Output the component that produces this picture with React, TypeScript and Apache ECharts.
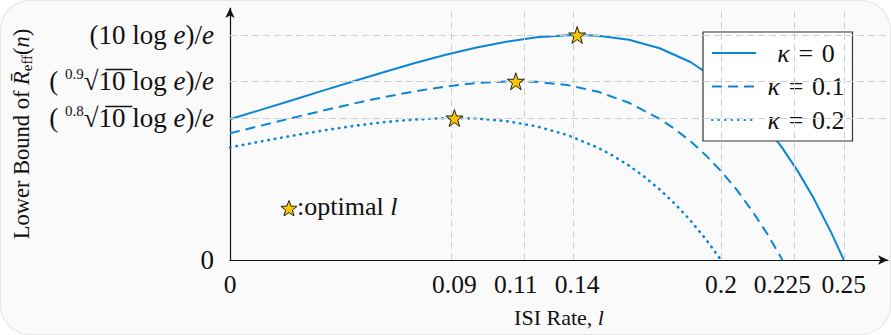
import React, { useEffect, useRef } from "react";
import * as echarts from "echarts";

// ---- data ----
const KAPPAS = [0, 0.1, 0.2];
const SERIES_NAMES = ["κ = 0", "κ = 0.1", "κ = 0.2"];

const L_K0 = [0, 0.0125, 0.025, 0.0375, 0.05, 0.0625, 0.075, 0.0875, 0.1, 0.1125, 0.125, 0.1375, 0.1414, 0.15, 0.1625, 0.175, 0.1875, 0.2, 0.20625, 0.2125, 0.21875, 0.225, 0.23125, 0.2375, 0.245, 0.25];
const R_K0 = [6.259, 6.671, 7.092, 7.515, 7.936, 8.348, 8.742, 9.108, 9.433, 9.702, 9.896, 9.993, 10.0, 9.967, 9.785, 9.411, 8.799, 7.898, 7.32, 6.647, 5.867, 4.972, 3.95, 2.789, 1.195, 0];

const L_K1 = [0, 0.0125, 0.025, 0.0375, 0.05, 0.0625, 0.075, 0.0875, 0.1, 0.1125, 0.1164, 0.125, 0.1375, 0.15, 0.1625, 0.175, 0.18125, 0.1875, 0.19375, 0.2, 0.20625, 0.2125, 0.21875, 0.225];
const R_K1 = [5.633, 5.969, 6.304, 6.631, 6.944, 7.235, 7.493, 7.707, 7.861, 7.938, 7.943, 7.917, 7.773, 7.475, 6.989, 6.274, 5.815, 5.28, 4.66, 3.949, 3.137, 2.215, 1.173, 0];

const L_K2 = [0, 0.0125, 0.025, 0.0375, 0.05, 0.0625, 0.075, 0.0875, 0.0914, 0.1, 0.1125, 0.125, 0.1375, 0.15, 0.15625, 0.1625, 0.16875, 0.175, 0.18125, 0.1875, 0.19375, 0.2];
const R_K2 = [5.007, 5.267, 5.516, 5.747, 5.952, 6.122, 6.245, 6.305, 6.31, 6.289, 6.174, 5.938, 5.552, 4.984, 4.619, 4.194, 3.702, 3.137, 2.492, 1.76, 0.932, 0];

const OPT_L = [0.1414, 0.1164, 0.0914];
const OPT_R = [10.0, 7.943, 6.31];

const X_TICK_VALUES = [0, 0.0914, 0.1164, 0.1414, 0.2, 0.225, 0.25];
const X_TICK_LABELS = ["0", "0.09", "0.11", "0.14", "0.2", "0.225", "0.25"];
const Y_TICK_VALUES = [0, 6.31, 7.943, 10];
const Y_TICK_LABELS = [
  "0",
  "( {sup|0.8}√1\u03050\u0305 log {it|e})/{it|e}",
  "( {sup|0.9}√1\u03050\u0305 log {it|e})/{it|e}",
  "(10 log {it|e})/{it|e}",
];

const FONT = "'Liberation Serif', 'DejaVu Serif', serif";
const BLUE = "#0a86d3";
const GOLD = "#f7c600";
const STAR = "path://M50,2 L61.8,36.2 L97.6,36.2 L68.7,57.4 L79.5,91.6 L50,70.6 L20.5,91.6 L31.3,57.4 L2.4,36.2 L38.2,36.2 Z";

function pick(values: number[], labels: string[], v: number) {
  const i = values.findIndex((t) => Math.abs(t - v) < 1e-6);
  return i >= 0 ? labels[i] : "";
}

function starPoints(cx: number, cy: number, ro: number, ri: number) {
  const pts: number[][] = [];
  for (let k = 0; k < 10; k++) {
    const r = k % 2 === 0 ? ro : ri;
    const a = -Math.PI / 2 + (k * Math.PI) / 5;
    pts.push([cx + r * Math.cos(a), cy + r * Math.sin(a)]);
  }
  return pts;
}

export default function App() {
  const ref = useRef<HTMLDivElement>(null);

  useEffect(() => {
    if (!ref.current) return;
    const chart = echarts.init(ref.current, undefined, { renderer: "svg" });
    const zip = (xs: number[], ys: number[]) => xs.map((x, i) => [x, ys[i]]);
    const lineTypes: any[] = ["solid", [10, 6], [0.5, 6]];
    const lineData = [zip(L_K0, R_K0), zip(L_K1, R_K1), zip(L_K2, R_K2)];

    const gridLineStyle = { color: "#cfcfcf", width: 1, type: [7, 4] as any };

    chart.setOption({
      animation: false,
      backgroundColor: "transparent",
      grid: { left: 230, right: 3, top: 8, bottom: 75 },
      xAxis: {
        type: "value",
        min: 0,
        max: 0.268,
        axisLine: {
          show: true,
          symbol: ["none", "arrow"],
          symbolSize: [7, 10],
          lineStyle: { color: "#111", width: 1.2 },
        },
        axisTick: { show: false },
        splitLine: { show: false },
        axisLabel: {
          customValues: X_TICK_VALUES,
          formatter: (v: number) => pick(X_TICK_VALUES, X_TICK_LABELS, v),
          fontFamily: FONT,
          fontSize: 25.5,
          color: "#111",
          margin: 11,
        },
        name: "ISI Rate, {it|l}",
        nameLocation: "middle",
        nameGap: 46,
        nameTextStyle: {
          fontFamily: FONT,
          fontSize: 22,
          color: "#111",
          rich: { it: { fontFamily: FONT, fontSize: 22, fontStyle: "italic", color: "#111" } },
        },
      },
      yAxis: {
        type: "value",
        min: 0,
        max: 11.2,
        axisLine: {
          show: true,
          symbol: ["none", "arrow"],
          symbolSize: [7, 10],
          lineStyle: { color: "#111", width: 1.2 },
        },
        axisTick: { show: false },
        splitLine: { show: false },
        axisLabel: {
          customValues: Y_TICK_VALUES,
          formatter: (v: number) => pick(Y_TICK_VALUES, Y_TICK_LABELS, v),
          fontFamily: FONT,
          fontSize: 27,
          lineHeight: 30,
          color: "#111",
          margin: 16,
          rich: {
            it: { fontFamily: FONT, fontSize: 27, fontStyle: "italic", color: "#111", lineHeight: 30 },
            sup: { fontFamily: FONT, fontSize: 15, color: "#111", verticalAlign: "top", lineHeight: 16 },
          },
        },
        name: "Lower Bound of {it|R\u0304}{sub|eff}({it|n})",
        nameLocation: "middle",
        nameRotate: 90,
        nameGap: 196,
        nameTextStyle: {
          fontFamily: FONT,
          fontSize: 22.5,
          color: "#111",
          lineHeight: 26,
          rich: {
            it: { fontFamily: FONT, fontSize: 22.5, fontStyle: "italic", color: "#111", lineHeight: 26 },
            sub: { fontFamily: FONT, fontSize: 15, color: "#111", verticalAlign: "bottom", lineHeight: 16 },
          },
        },
      },
      legend: {
        data: SERIES_NAMES,
        orient: "vertical",
        left: 703,
        top: 32,
        padding: 8,
        itemGap: 7.5,
        itemWidth: 44,
        itemHeight: 24,
        backgroundColor: "#ffffff",
        borderColor: "#333",
        borderWidth: 1.2,
        borderRadius: 0,
        itemStyle: { opacity: 0 },
        formatter: (name: string) => {
          const i = SERIES_NAMES.indexOf(name);
          return `{k|κ}{c|\u2004=\u2004${KAPPAS[i]}}`;
        },
        textStyle: {
          width: 90,
          fontFamily: FONT,
          fontSize: 26,
          color: "#111",
          rich: {
            k: { align: "center", fontFamily: FONT, fontSize: 26, fontStyle: "italic", color: "#111", lineHeight: 24 },
            c: { align: "center", fontFamily: FONT, fontSize: 26, color: "#111", lineHeight: 24 },
          },
        },
      },
      graphic: [
        {
          type: "polygon",
          shape: { points: starPoints(289, 209, 8.5, 3.6) },
          style: { fill: GOLD, stroke: "#222", lineWidth: 1 },
          z: 10,
        },
        {
          type: "text",
          left: 297,
          top: 193,
          style: {
            text: ":optimal {it|l}",
            fontFamily: FONT,
            fontSize: 26,
            fill: "#111",
            rich: { it: { fontFamily: FONT, fontSize: 26, fontStyle: "italic", fill: "#111" } },
          },
          z: 10,
        },
      ],
      series: [
        {
          type: "line",
          name: "grid",
          data: [],
          silent: true,
          z: 1,
          markLine: {
            silent: true,
            symbol: ["none", "none"],
            label: { show: false },
            lineStyle: gridLineStyle,
            data: [
              ...X_TICK_VALUES.filter((v) => v > 0).map((v) => ({ xAxis: v })),
              ...Y_TICK_VALUES.filter((v) => v > 0).map((v) => ({ yAxis: v })),
            ],
          },
        },
        ...SERIES_NAMES.map((name, i) => ({
          type: "line",
          name,
          data: lineData[i],
          symbol: "none",
          z: 3,
          lineStyle: { color: BLUE, width: i === 2 ? 2.6 : 2, type: lineTypes[i], cap: i === 2 ? "round" : "butt" },
          itemStyle: { color: BLUE },
        })),
        {
          type: "scatter",
          name: "optimal",
          data: OPT_L.map((x, i) => [x, OPT_R[i]]),
          symbol: STAR,
          symbolSize: 17,
          z: 5,
          itemStyle: { color: GOLD, borderColor: "#222", borderWidth: 1, opacity: 1 },
        },
      ],
    });
    return () => chart.dispose();
  }, []);

  return (
    <div
      style={{
        position: "fixed",
        left: 0,
        top: 0,
        width: 891,
        height: 335,
        background: "#ffffff",
      }}
    >
      <div
        style={{
          position: "absolute",
          inset: 0,
          borderRadius: 30,
          background: "#fafafa",
          boxShadow: "inset 0 0 0 1px #e6e6e6",
        }}
      />
      <div ref={ref} style={{ position: "absolute", left: 0, top: 0, width: 891, height: 335 }} />
    </div>
  );
}
